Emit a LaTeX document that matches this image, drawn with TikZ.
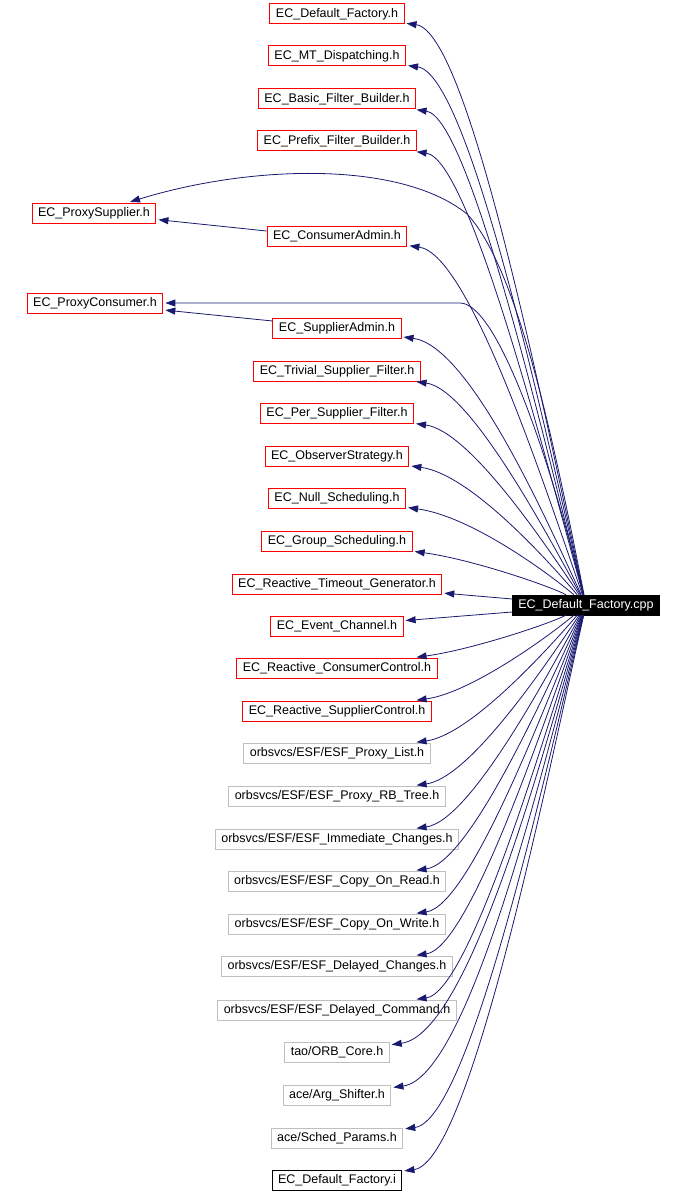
\documentclass[tikz,border=0pt]{standalone}
\usepackage{fontspec}
\setmainfont{Liberation Sans}
\usetikzlibrary{arrows.meta}
\definecolor{depblue}{HTML}{191970}
\definecolor{extgray}{HTML}{BFBFBF}

\begin{document}
\begin{tikzpicture}[
    x=1pt, y=1pt,
    hdr/.style={
        rectangle,
        draw=#1,
        line width=1pt,
        minimum height=20pt,
        inner xsep=6pt,
        inner ysep=0pt,
        font=\fontsize{12.5}{14}\selectfont
    },
    hdr/.default=red,
    src/.style={
        rectangle,
        draw=black,
        fill=black,
        text=white,
        minimum height=20pt,
        inner xsep=6pt,
        inner ysep=0pt,
        font=\fontsize{12.5}{14}\selectfont
    },
    dep/.style={-{Triangle[length=10pt,width=7pt]}, depblue, line width=0.8pt, shorten >=2pt}
]
\useasboundingbox (0,0) rectangle (686,-1193);

\node[src] (cpp) at (586,-605) {EC\_Default\_Factory.cpp};

\node[hdr] (dfh) at (337,-14) {EC\_Default\_Factory.h};
\node[hdr] (mtd) at (337,-56) {EC\_MT\_Dispatching.h};
\node[hdr] (bfb) at (337,-99) {EC\_Basic\_Filter\_Builder.h};
\node[hdr] (pfb) at (337,-141) {EC\_Prefix\_Filter\_Builder.h};
\node[hdr] (ps) at (94,-213) {EC\_ProxySupplier.h};
\node[hdr] (ca) at (337,-236) {EC\_ConsumerAdmin.h};
\node[hdr] (pc) at (95,-303) {EC\_ProxyConsumer.h};
\node[hdr] (sa) at (337,-328) {EC\_SupplierAdmin.h};
\node[hdr] (tsf) at (337,-371) {EC\_Trivial\_Supplier\_Filter.h};
\node[hdr] (psf) at (337,-413) {EC\_Per\_Supplier\_Filter.h};
\node[hdr] (obs) at (337,-456) {EC\_ObserverStrategy.h};
\node[hdr] (nul) at (337,-498) {EC\_Null\_Scheduling.h};
\node[hdr] (grp) at (337,-541) {EC\_Group\_Scheduling.h};
\node[hdr] (rtg) at (337,-584) {EC\_Reactive\_Timeout\_Generator.h};
\node[hdr] (ec) at (337,-626) {EC\_Event\_Channel.h};
\node[hdr] (rcc) at (337,-668) {EC\_Reactive\_ConsumerControl.h};
\node[hdr] (rsc) at (337,-711) {EC\_Reactive\_SupplierControl.h};
\node[hdr=extgray] (pl) at (337,-753) {orbsvcs/ESF/ESF\_Proxy\_List.h};
\node[hdr=extgray] (rb) at (337,-796) {orbsvcs/ESF/ESF\_Proxy\_RB\_Tree.h};
\node[hdr=extgray] (imm) at (337,-839) {orbsvcs/ESF/ESF\_Immediate\_Changes.h};
\node[hdr=extgray] (cor) at (337,-881) {orbsvcs/ESF/ESF\_Copy\_On\_Read.h};
\node[hdr=extgray] (cow) at (337,-924) {orbsvcs/ESF/ESF\_Copy\_On\_Write.h};
\node[hdr=extgray] (dch) at (337,-966) {orbsvcs/ESF/ESF\_Delayed\_Changes.h};
\node[hdr=extgray] (dcm) at (337,-1010) {orbsvcs/ESF/ESF\_Delayed\_Command.h};
\node[hdr=extgray] (orb) at (337,-1052) {tao/ORB\_Core.h};
\node[hdr=extgray] (arg) at (337,-1095) {ace/Arg\_Shifter.h};
\node[hdr=extgray] (sch) at (337,-1138) {ace/Sched\_Params.h};
\node[hdr=black] (dfi) at (337,-1180) {EC\_Default\_Factory.i};

% includes above the source file
\foreach \n/\y in {dfh/14, mtd/56, bfb/99, pfb/141, ca/236, sa/328, tsf/371,
                   psf/413, obs/456, nul/498, grp/541}
    \draw[dep] (cpp) .. controls (547,{-(596-0.3*(578-\y))}) and (470,{-(\y+18)}) .. (\n);

% includes below the source file
\foreach \n/\y in {rcc/668, rsc/711, pl/753, rb/796, imm/839, cor/881, cow/924,
                   dch/966, dcm/1010, orb/1052, arg/1095, sch/1138, dfi/1180}
    \draw[dep] (cpp) .. controls (547,{-(614+0.3*(\y-18-614))}) and (470,{-(\y-18)}) .. (\n);

\draw[dep] ([yshift=6pt]cpp.west) -- (rtg);
\draw[dep] ([yshift=-7pt]cpp.west) -- (ec);

% proxies
\draw[dep] (cpp) .. controls (550,-420) and (515,-265) .. (467,-214)
    .. controls (400,-160) and (250,-165) .. (ps);
\draw[dep] ([yshift=5pt]ca.west) -- (ps);
\draw[dep] (cpp) .. controls (545,-440) and (495,-303) .. (460,-303) -- (pc);
\draw[dep] ([yshift=7pt]sa.west) -- (pc);

\end{tikzpicture}
\end{document}
